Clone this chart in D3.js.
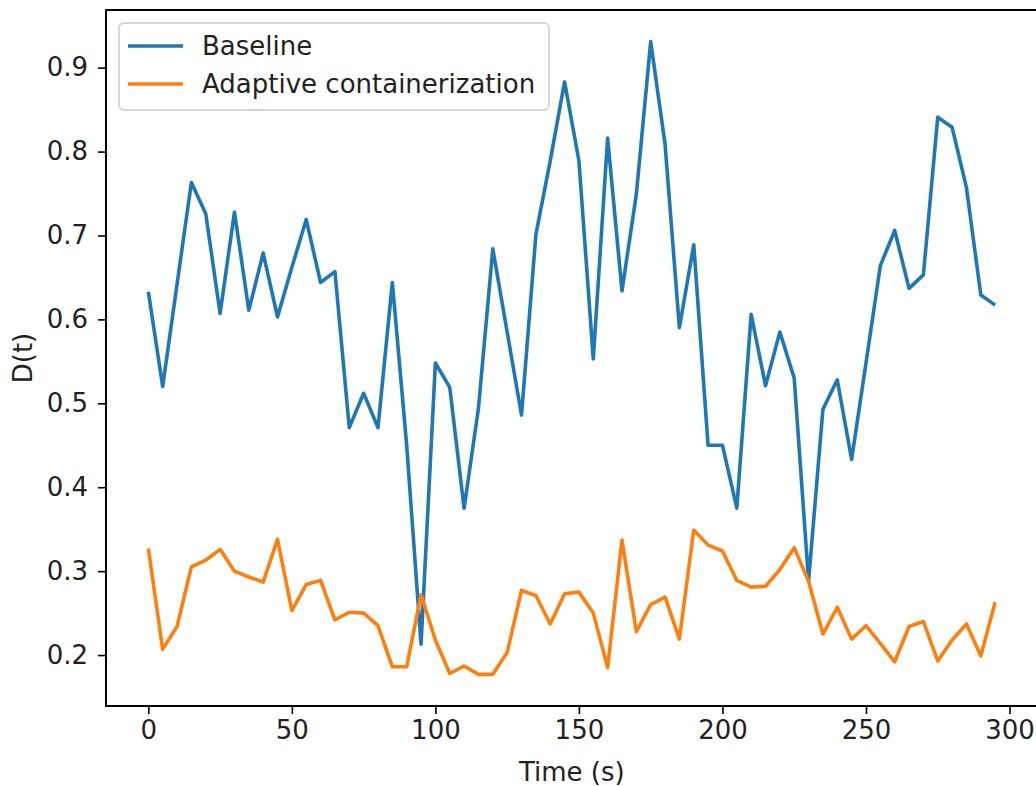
<!DOCTYPE html>
<html>
<head>
<meta charset="utf-8">
<script src="https://cdn.jsdelivr.net/npm/d3@7"></script>
<style>
  html, body { margin: 0; padding: 0; background: #fff; }
  svg { display: block; font-family: "DejaVu Sans", sans-serif; }
</style>
</head>
<body>
<svg id="chart" width="1036" height="786"></svg>
<script>
const times = d3.range(0, 300, 5);
const baseline = [
  0.633, 0.520, 0.642, 0.763, 0.726, 0.607, 0.728, 0.611, 0.679, 0.603,
  0.662, 0.719, 0.644, 0.657, 0.471, 0.512, 0.471, 0.644, 0.450, 0.213,
  0.548, 0.519, 0.375, 0.494, 0.684, 0.585, 0.486, 0.701, 0.789, 0.883,
  0.789, 0.553, 0.816, 0.634, 0.749, 0.931, 0.809, 0.590, 0.689, 0.450,
  0.450, 0.375, 0.606, 0.521, 0.585, 0.530, 0.288, 0.493, 0.528, 0.433,
  0.548, 0.664, 0.706, 0.637, 0.653, 0.841, 0.829, 0.757, 0.629, 0.617
];
const adaptive = [
  0.327, 0.207, 0.234, 0.305, 0.313, 0.326, 0.300, 0.293, 0.287, 0.338,
  0.253, 0.284, 0.289, 0.242, 0.251, 0.250, 0.235, 0.186, 0.186, 0.272,
  0.218, 0.178, 0.187, 0.177, 0.177, 0.203, 0.277, 0.271, 0.237, 0.273,
  0.275, 0.250, 0.185, 0.337, 0.228, 0.260, 0.269, 0.219, 0.349, 0.331,
  0.324, 0.289, 0.281, 0.282, 0.302, 0.328, 0.288, 0.225, 0.257, 0.219,
  0.235, 0.214, 0.192, 0.234, 0.240, 0.193, 0.218, 0.237, 0.199, 0.263
];
const seriesNames = ["Baseline", "Adaptive containerization"];
const seriesColors = ["#1f77b4", "#ff7f0e"];
const xTicks = [0, 50, 100, 150, 200, 250, 300];
const yTicks = [0.2, 0.3, 0.4, 0.5, 0.6, 0.7, 0.8, 0.9];

(function () {
const svg = d3.select("#chart");
const pLeft = 106, pRight = 1037.5, pTop = 10, pBottom = 706;
const fs = 26;

const xMin = d3.min(times), xMax = d3.max(times);
const xPad = (xMax - xMin) * 0.05;
const allY = baseline.concat(adaptive);
const yMin = d3.min(allY), yMax = d3.max(allY);
const yPad = (yMax - yMin) * 0.05;

const x = d3.scaleLinear().domain([xMin - xPad, xMax + xPad]).range([pLeft, pRight]);
const y = d3.scaleLinear().domain([yMin - yPad, yMax + yPad]).range([pBottom, pTop]);

const line = d3.line().x((d, i) => x(times[i])).y(d => y(d));

const g = svg.append("g");
[baseline, adaptive].forEach((s, k) => {
  g.append("path")
    .datum(s)
    .attr("d", line)
    .attr("fill", "none")
    .attr("stroke", seriesColors[k])
    .attr("stroke-width", 3.6)
    .attr("stroke-linejoin", "round")
    .attr("stroke-linecap", "butt");
});

const xAxis = d3.axisBottom(x).tickValues(xTicks).tickFormat(d3.format("d")).tickSize(8).tickPadding(7);
const yAxis = d3.axisLeft(y).tickValues(yTicks).tickFormat(d3.format(".1f")).tickSize(8).tickPadding(10);

const gx = svg.append("g").attr("transform", `translate(0,${pBottom})`).call(xAxis);
const gy = svg.append("g").attr("transform", `translate(${pLeft},0)`).call(yAxis);
[gx, gy].forEach(a => {
  a.select(".domain").remove();
  a.selectAll(".tick line").attr("stroke", "#000").attr("stroke-width", 1.6);
  a.selectAll(".tick text").attr("fill", "#222").style("font-size", fs + "px").style("font-family", "DejaVu Sans");
});

svg.append("rect")
  .attr("x", pLeft).attr("y", pTop)
  .attr("width", pRight - pLeft).attr("height", pBottom - pTop)
  .attr("fill", "none").attr("stroke", "#000").attr("stroke-width", 2);

svg.append("text")
  .attr("x", (pLeft + pRight) / 2).attr("y", 781)
  .attr("text-anchor", "middle").attr("fill", "#222")
  .style("font-size", fs + "px").text("Time (s)");
svg.append("text")
  .attr("transform", `translate(32,${(pTop + pBottom) / 2}) rotate(-90)`)
  .attr("text-anchor", "middle").attr("fill", "#222")
  .style("font-size", fs + "px").text("D(t)");

const lg = svg.append("g");
lg.append("rect")
  .attr("x", 119).attr("y", 23).attr("width", 430).attr("height", 87)
  .attr("rx", 5).attr("ry", 5)
  .attr("fill", "#fff").attr("fill-opacity", 0.8)
  .attr("stroke", "#d5d5d5").attr("stroke-width", 1.8);
seriesNames.forEach((name, k) => {
  const yy = 46 + k * 38;
  lg.append("line")
    .attr("x1", 128).attr("x2", 183).attr("y1", yy).attr("y2", yy)
    .attr("stroke", seriesColors[k]).attr("stroke-width", 3.6);
  lg.append("text")
    .attr("x", 202).attr("y", yy).attr("dy", "0.35em")
    .attr("fill", "#222").style("font-size", fs + "px").text(name);
});
})();
</script>
</body>
</html>
